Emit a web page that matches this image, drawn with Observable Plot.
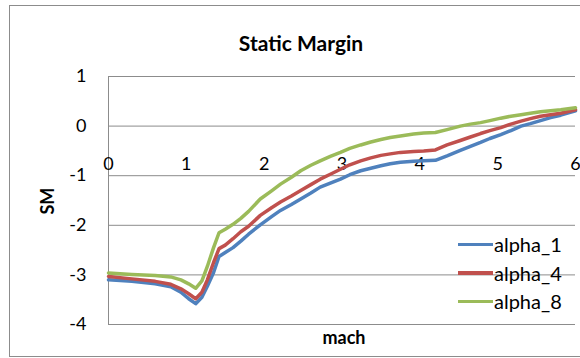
<!DOCTYPE html>
<html>
<head>
<meta charset="utf-8">
<script src="https://cdn.jsdelivr.net/npm/d3@7"></script>
<script src="https://cdn.jsdelivr.net/npm/@observablehq/plot@0.6"></script>
<style>
  body { margin: 0; background: #fff; }
  #wrap { position: relative; width: 580px; height: 358px; overflow: hidden; font-family: Lato, "Open Sans", sans-serif; }
  #border { position: absolute; left: 9px; top: 5px; width: 600px; height: 350px; border: 1px solid #8c8c8c; pointer-events: none; }
  #legend { position: absolute; left: 458px; top: 230px; font-size: 20px; color: #000; }
  #legend .row { display: flex; align-items: center; height: 28.5px; }
  #legend .sw { width: 35px; height: 3.5px; margin-right: 1px; }
</style>
</head>
<body>
<div id="wrap"><div id="border"></div><div id="legend"></div></div>
<script>
const title = "Static Margin";
const xLabel = "mach";
const yLabel = "SM";
const seriesNames = ["alpha_1", "alpha_4", "alpha_8"];
const seriesColors = ["#4F81BD", "#C0504D", "#9BBB59"];
const xTicks = [0, 1, 2, 3, 4, 5, 6];
const yTicks = [1, 0, -1, -2, -3, -4];

const mach = [0, 0.3, 0.6, 0.8, 0.93, 1.03, 1.12, 1.2, 1.27, 1.35, 1.42, 1.5, 1.6, 1.7, 1.8, 1.95, 2.1, 2.21, 2.35, 2.47, 2.6, 2.72, 2.85, 2.98, 3.1, 3.24, 3.37, 3.5, 3.62, 3.75, 3.92, 4.05, 4.2, 4.35, 4.52, 4.65, 4.78, 4.9, 5.04, 5.17, 5.3, 5.42, 5.55, 5.68, 5.81, 6.0];

const alpha_1 = [-3.10, -3.13, -3.18, -3.24, -3.35, -3.48, -3.58, -3.45, -3.23, -2.95, -2.63, -2.55, -2.45, -2.32, -2.18, -1.99, -1.82, -1.70, -1.58, -1.47, -1.35, -1.23, -1.15, -1.07, -0.98, -0.90, -0.85, -0.80, -0.76, -0.73, -0.71, -0.70, -0.69, -0.60, -0.49, -0.41, -0.33, -0.25, -0.17, -0.09, 0.00, 0.05, 0.11, 0.17, 0.22, 0.31];

const alpha_4 = [-3.03, -3.08, -3.13, -3.19, -3.28, -3.38, -3.48, -3.35, -3.10, -2.75, -2.47, -2.40, -2.27, -2.13, -2.02, -1.80, -1.64, -1.53, -1.41, -1.30, -1.18, -1.07, -0.97, -0.87, -0.78, -0.70, -0.64, -0.59, -0.56, -0.53, -0.51, -0.50, -0.48, -0.38, -0.29, -0.22, -0.15, -0.09, -0.03, 0.04, 0.10, 0.15, 0.20, 0.23, 0.26, 0.33];

const alpha_8 = [-2.96, -2.99, -3.01, -3.04, -3.10, -3.18, -3.27, -3.12, -2.83, -2.45, -2.15, -2.08, -1.98, -1.86, -1.72, -1.47, -1.30, -1.17, -1.03, -0.90, -0.79, -0.70, -0.61, -0.53, -0.45, -0.38, -0.32, -0.27, -0.23, -0.20, -0.16, -0.14, -0.13, -0.07, 0.00, 0.04, 0.07, 0.11, 0.16, 0.20, 0.23, 0.26, 0.29, 0.31, 0.33, 0.37];

const seriesValues = [alpha_1, alpha_4, alpha_8];
const data = seriesNames.flatMap((name, i) =>
  mach.map((m, j) => ({series: name, mach: m, sm: seriesValues[i][j]}))
);

const plot = Plot.plot({
  width: 580,
  height: 358,
  marginLeft: 108,
  marginRight: 5,
  marginTop: 76,
  marginBottom: 34,
  style: {font: "18px Lato, 'Open Sans', sans-serif", background: "transparent", color: "#000"},
  x: {domain: [0, 6], axis: null},
  y: {domain: [-4, 1], axis: null},
  color: {domain: seriesNames, range: seriesColors},
  marks: [
    Plot.ruleY(yTicks, {stroke: "#8c8c8c", strokeWidth: 1}),
    Plot.ruleX([0], {stroke: "#8c8c8c", strokeWidth: 1}),
    Plot.axisY({ticks: yTicks, tickSize: 0, tickPadding: 22, tickFormat: d => String(d).replace("−", "-"), fontSize: 18, label: null}),
    Plot.text(xTicks, {x: d => d, y: 0, dy: 38, text: d => String(d), fontSize: 18}),
    Plot.line(data, {x: "mach", y: "sm", z: "series", stroke: "series", strokeWidth: 3.5, strokeLinejoin: "round", strokeLinecap: "round"}),
    Plot.text([title], {frameAnchor: "top", dx: -41, dy: -40, fontSize: 21, fontWeight: "bold"}),
    Plot.text([xLabel], {frameAnchor: "bottom", dx: 2, dy: 19, fontSize: 18, fontWeight: "bold"}),
    Plot.text([yLabel], {frameAnchor: "left", dx: -60, dy: 14, rotate: -90, fontSize: 18, fontWeight: "bold"})
  ]
});

const wrap = document.getElementById("wrap");
wrap.insertBefore(plot, wrap.firstChild);

const legend = document.getElementById("legend");
seriesNames.forEach((name, i) => {
  const row = document.createElement("div");
  row.className = "row";
  const sw = document.createElement("span");
  sw.className = "sw";
  sw.style.background = seriesColors[i];
  const lbl = document.createElement("span");
  lbl.textContent = name;
  row.appendChild(sw);
  row.appendChild(lbl);
  legend.appendChild(row);
});
</script>
</body>
</html>
